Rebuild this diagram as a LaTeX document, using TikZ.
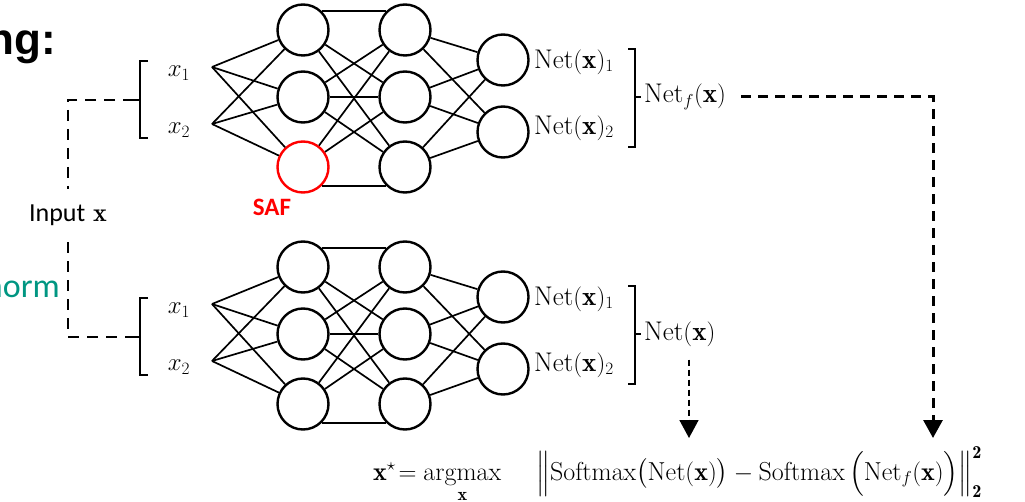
\documentclass[tikz,border=0pt]{standalone}
\usepackage{amsmath}
\usepackage{fontspec}
\newfontfamily\carlito{Carlito}
\newfontfamily\arialfont{Liberation Sans}
\usetikzlibrary{arrows.meta}
\definecolor{normgreen}{RGB}{0,150,130}
\begin{document}
\begin{tikzpicture}[x=1pt,y=-1pt,
  neuron/.style={circle,draw,line width=2.4pt,minimum size=51pt,inner sep=0pt},
  edge/.style={line width=1.7pt},
  lbl/.style={font=\fontsize{27}{30}\selectfont,inner sep=1pt},
  inlbl/.style={font=\fontsize{26}{30}\selectfont,inner sep=1pt},
  brk/.style={line width=1.8pt},
  inputdash/.style={line width=1.8pt,dash pattern=on 11pt off 8pt},
  thickdash/.style={line width=3pt,dash pattern=on 10pt off 7pt},
  thindash/.style={line width=1.6pt,dash pattern=on 6pt off 4pt},
  tip/.style={-{Triangle[width=19pt,length=18pt]}}]
\useasboundingbox (0,0) rectangle (1025,502);

\foreach \p/\dy/\cc in {t/0/red,b/237/black}{
  % layer nodes
  \node[neuron] (\p c1) at (303,30+\dy) {};
  \node[neuron] (\p c2) at (303,97+\dy) {};
  \node[neuron,draw=\cc] (\p c3) at (303,167+\dy) {};
  \node[neuron] (\p d1) at (405,30+\dy) {};
  \node[neuron] (\p d2) at (405,97+\dy) {};
  \node[neuron] (\p d3) at (405,167+\dy) {};
  \node[neuron] (\p e1) at (503,60+\dy) {};
  \node[neuron] (\p e2) at (503,132+\dy) {};
  % inputs
  \coordinate (\p i1) at (212,67+\dy);
  \coordinate (\p i2) at (212,124+\dy);
  \node[inlbl] (\p x1) at (179,73+\dy) {$x_1$};
  \node[inlbl] (\p x2) at (179,130+\dy) {$x_2$};
  \foreach \i in {1,2}{\foreach \j in {1,2,3}{\draw[edge] (\p i\i) -- (\p c\j);}}
  \foreach \i in {1,2,3}{\foreach \j in {1,2,3}{\ifnum\i=\j\else\draw[edge] (\p c\i) -- (\p d\j);\fi}}
  \draw[edge] (\p c1.45) -- (\p d1.135);
  \draw[edge] (\p c2) -- (\p d2);
  \draw[edge] (\p c3.-45) -- (\p d3.-135);
  \foreach \i in {1,2,3}{\foreach \j in {1,2}{\draw[edge] (\p d\i) -- (\p e\j);}}
  % outputs
  \node[lbl,anchor=west] (\p o1) at (533,62+\dy) {$\mathrm{Net}(\mathbf{x})_1$};
  \node[lbl,anchor=west] (\p o2) at (533,128+\dy) {$\mathrm{Net}(\mathbf{x})_2$};
  \draw[brk] (628,49+\dy) -- (635,49+\dy) -- (635,147+\dy) -- (628,147+\dy);
  \draw[brk] (635,97+\dy) -- (641,97+\dy);
  % input bracket
  \draw[brk] (148,61+\dy) -- (140,61+\dy) -- (140,138+\dy) -- (148,138+\dy);
  \coordinate (\p bm) at (134,100+\dy);
  \draw[brk] (140,100+\dy) -- (\p bm);
}

\node[lbl,anchor=west] (nf) at (643,97) {$\mathrm{Net}_f(\mathbf{x})$};
\node[lbl,anchor=west] (nb) at (643,334) {$\mathrm{Net}(\mathbf{x})$};

\node[font=\fontsize{26}{30}\selectfont,inner xsep=2pt,inner ysep=16pt,anchor=base] (inp) at (68,222) {{\carlito Input} $\mathbf{x}$};
\draw[inputdash] (tbm) -| (inp.north);
\draw[inputdash] (inp.south) |- (bbm);

\node[font=\fontsize{25}{28}\selectfont\carlito\bfseries,text=red,inner sep=0pt] (saf) at (272,207) {SAF};
\node[font=\fontsize{44}{48}\selectfont\arialfont\bfseries,anchor=base east,inner sep=0pt] (ng) at (56,55) {ng:};
\node[font=\fontsize{34}{38}\selectfont\carlito,text=normgreen,anchor=base east,inner sep=0pt] (nrm) at (60,298) {norm};

\node[font=\fontsize{26}{30}\selectfont,anchor=base west,inner sep=0pt] (formula) at (373,480)
 {$\mathbf{x}^{\star}\!= \underset{\mathbf{x}}{\mathrm{argmax}}\hspace{1.35em} \Big\|\mathrm{Softmax}\big(\mathrm{Net}(\mathbf{x})\big) - \mathrm{Softmax}\,\Big(\mathrm{Net}_f(\mathbf{x})\Big)\Big\|_{\mathbf{2}}^{\mathbf{2}}$};

\coordinate (fa) at (933,438);
\coordinate (ga) at (689,438);
\draw[thickdash,tip] ([xshift=14pt]nf.east) -| (fa);
\draw[thindash,tip] (nb.south -| ga) ++(0,12) -- (ga);
\end{tikzpicture}
\end{document}
